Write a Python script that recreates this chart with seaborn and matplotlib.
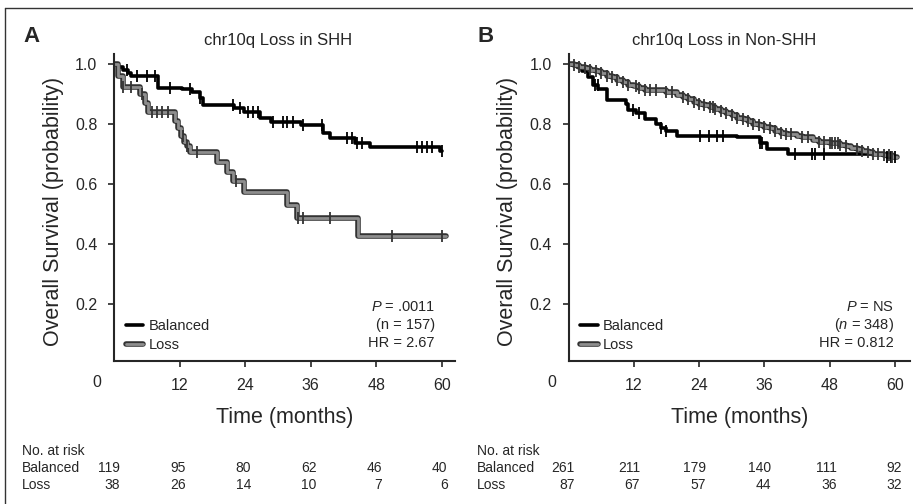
import numpy as np
import pandas as pd
import seaborn as sns
import matplotlib.pyplot as plt
import matplotlib.patheffects as pe
from matplotlib.lines import Line2D

# ---- data ----
# panel A: SHH
a_bal_t = [0, 0.8, 1.6, 2.5, 3.2, 8.1, 12.5, 14.3, 15.7, 16.3, 22.0, 23.7, 26.7, 28.7, 34.3, 38.2, 39.5, 44.1, 46.8, 59.7, 60.0]
a_bal_s = [1.0, 0.99, 0.98, 0.97, 0.96, 0.92, 0.915, 0.905, 0.885, 0.863, 0.853, 0.84, 0.82, 0.808, 0.797, 0.77, 0.753, 0.737, 0.723, 0.71, 0.71]
a_bal_cens = [2.3, 4.2, 6.0, 7.5, 10.2, 13.9, 15.7, 21.8, 23.0, 24.5, 25.5, 26.4, 29.1, 31.0, 31.6, 32.8, 34.6, 38.0,
              42.6, 43.5, 44.4, 45.3, 55.4, 56.3, 57.2, 58.1, 60.0]
a_loss_t = [0, 0.8, 1.7, 4.8, 5.6, 6.3, 11.2, 11.8, 12.3, 12.8, 13.3, 13.9, 18.8, 20.6, 21.8, 23.7, 31.6, 33.4, 44.7, 60.7]
a_loss_s = [1.0, 0.96, 0.923, 0.9, 0.87, 0.84, 0.81, 0.785, 0.76, 0.74, 0.725, 0.708, 0.674, 0.64, 0.61, 0.573, 0.53, 0.486, 0.427, 0.427]
a_loss_cens = [1.7, 3.2, 5.1, 6.9, 7.8, 8.7, 9.9, 12.7, 13.3, 15.1, 22.4, 33.7, 34.6, 39.5, 50.8, 60.0]

# panel B: Non-SHH
b_bal_t = [0, 1.5, 2.5, 3.5, 4.5, 5.5, 7.0, 10.5, 11.0, 12.5, 14.0, 16.0, 17.0, 18.0, 20.0, 31.0, 35.2, 36.5, 40.4, 58.5, 60.5]
b_bal_s = [1.0, 0.99, 0.975, 0.955, 0.93, 0.915, 0.88, 0.865, 0.845, 0.835, 0.815, 0.80, 0.785, 0.775, 0.76, 0.755, 0.735, 0.715, 0.70, 0.69, 0.69]
b_bal_cens = [4.9, 5.4, 11.9, 13.0, 17.1, 18.0, 24.2, 25.8, 27.3, 28.4, 35.2, 35.6, 41.6, 44.8, 45.3, 47.0, 58.5, 59.3, 60.0]
b_loss_t = [0, 1, 2, 3, 4, 5, 6, 7, 8, 9, 10, 11, 12, 13, 14, 18, 20,
            21, 22, 23, 24, 25, 26, 27, 28, 29, 30, 31, 32, 33, 34, 35, 36, 37, 38, 39, 40,
            42, 43, 45, 46, 48, 50, 51, 52, 53, 54, 55, 56, 58, 59.5, 60.5]
b_loss_s = [1.0, 0.995, 0.99, 0.985, 0.98, 0.975, 0.97, 0.96, 0.955, 0.948, 0.94, 0.93, 0.925, 0.92, 0.912, 0.905, 0.897,
            0.89, 0.882, 0.874, 0.868, 0.862, 0.855, 0.85, 0.842, 0.836, 0.83, 0.82, 0.815, 0.81, 0.80, 0.795, 0.79, 0.785, 0.775, 0.77, 0.765,
            0.76, 0.755, 0.745, 0.74, 0.735, 0.73, 0.725, 0.72, 0.715, 0.71, 0.705, 0.70, 0.695, 0.69, 0.69]
b_loss_cens = [1, 2, 3, 4, 5, 6, 7, 8, 9, 10, 11, 12.5, 13, 14, 15, 16, 18, 19, 21, 22, 23, 24, 25, 26, 26.5, 27, 28,
               29, 30, 31, 32, 33, 34, 35, 36, 37, 38, 39, 40, 41, 43, 44, 46, 47, 48, 48.5, 49, 49.5, 50, 51, 53,
               54, 55, 56, 57, 58, 59, 59.5]

risk_times = [0, 12, 24, 36, 48, 60]
a_risk_bal = [119, 95, 80, 62, 46, 40]
a_risk_loss = [38, 26, 14, 10, 7, 6]
b_risk_bal = [261, 211, 179, 140, 111, 92]
b_risk_loss = [87, 67, 57, 44, 36, 32]

titles = ["chr10q Loss in SHH", "chr10q Loss in Non-SHH"]
letters = ["A", "B"]
stats = [["$\\mathit{P}$ = .0011", "(n = 157)", "HR = 2.67"],
         ["$\\mathit{P}$ = NS", "($\\mathit{n}$ = 348)", "HR = 0.812"]]

sns.set_style("ticks")
plt.rcParams["font.family"] = ["Liberation Sans", "DejaVu Sans"]
plt.rcParams["mathtext.fontset"] = "custom"
plt.rcParams["mathtext.it"] = "Liberation Sans:italic"
plt.rcParams["mathtext.rm"] = "Liberation Sans"

W, H = 913, 504
fig = plt.figure(figsize=(W / 100, H / 100), dpi=100)


def px(x, y):
    return x / W, 1 - y / H


BAL_COLOR = "black"
LOSS_COLOR = "#8e8e8e"
LOSS_EDGE = "#333333"
loss_fx = [pe.Stroke(linewidth=4.0, foreground=LOSS_EDGE), pe.Normal()]


def km(ax, t, s, cens, color, lw, fx, tick_color):
    df = pd.DataFrame({"t": t, "s": s})
    line = sns.lineplot(data=df, x="t", y="s", ax=ax, color=color, lw=lw, drawstyle="steps-post",
                        estimator=None, sort=False, legend=False)
    if fx:
        line.lines[-1].set_path_effects(fx)
    idx = np.searchsorted(np.array(t), np.array(cens), side="right") - 1
    cdf = pd.DataFrame({"t": cens, "s": np.array(s)[idx]})
    sns.scatterplot(data=cdf, x="t", y="s", ax=ax, marker="|", s=75, linewidth=1.3,
                    color=tick_color, legend=False, zorder=5)


panels = [
    dict(left=114, right=455, bal=(a_bal_t, a_bal_s, a_bal_cens), loss=(a_loss_t, a_loss_s, a_loss_cens),
         rb=a_risk_bal, rl=a_risk_loss, title_x=278, xmax=62.4, ann_x=0.941),
    dict(left=568.5, right=910, bal=(b_bal_t, b_bal_s, b_bal_cens), loss=(b_loss_t, b_loss_s, b_loss_cens),
         rb=b_risk_bal, rl=b_risk_loss, title_x=724, xmax=62.8, ann_x=0.953),
]

top, bottom = 54, 361
for i, p in enumerate(panels):
    l, b = px(p["left"], bottom)
    ax = fig.add_axes([l, b, (p["right"] - p["left"]) / W, (bottom - top) / H])
    km(ax, *p["bal"], BAL_COLOR, 2.6, None, "black")
    km(ax, *p["loss"], LOSS_COLOR, 2.0, loss_fx, "#333333")

    ax.set_xlim(0, p["xmax"])
    ax.set_ylim(0.01, 1.033)
    ax.set_xticks([12, 24, 36, 48, 60])
    ax.set_yticks([0.2, 0.4, 0.6, 0.8, 1.0])
    ax.set_yticklabels(["0.2", "0.4", "0.6", "0.8", "1.0"])
    ax.tick_params(axis="both", direction="out", length=4, width=1.2, labelsize=11.5)
    ax.tick_params(axis="y", pad=8)
    ax.tick_params(axis="x", pad=8)
    ax.set_xlabel("")
    ax.set_ylabel("")
    sns.despine(ax=ax)
    for sp in ["left", "bottom"]:
        ax.spines[sp].set_linewidth(1.5)

    # "0" at the origin
    ax.text(-3.1, -0.06, "0", transform=ax.transData, ha="center", va="center", fontsize=11.5)

    # legend
    handles = [Line2D([], [], color=BAL_COLOR, lw=2.6),
               Line2D([], [], color=LOSS_COLOR, lw=2.0, path_effects=loss_fx)]
    ax.legend(handles, ["Balanced", "Loss"], loc="lower left", bbox_to_anchor=(0.035, 0.03),
              frameon=False, fontsize=10.5, handlelength=1.2, handletextpad=0.35,
              labelspacing=0.3, borderpad=0, borderaxespad=0)

    # stats
    for k, txt in enumerate(stats[i]):
        ax.text(p["ann_x"], 0.176 - k * 0.059, txt, transform=ax.transAxes,
                ha="right", va="center", fontsize=10.5)

    # titles, letters, axis labels
    fig.text(*px(p["title_x"], 41), titles[i], ha="center", va="center", fontsize=12)
    fig.text(*px(p["left"] - 91, 37), letters[i], ha="left", va="center", fontsize=16, fontweight="bold")
    fig.text(*px(p["left"] - 61, 211), "Overall Survival (probability)", rotation=90,
             ha="center", va="center", fontsize=15.5)
    fig.text(*px((p["left"] + p["right"]) / 2, 418), "Time (months)", ha="center", va="center", fontsize=15.5)

    # number at risk table
    tx = p["left"] - 92
    fig.text(*px(tx, 451), "No. at risk", ha="left", va="center", fontsize=10)
    fig.text(*px(tx, 468), "Balanced", ha="left", va="center", fontsize=10)
    fig.text(*px(tx, 485), "Loss", ha="left", va="center", fontsize=10)
    for t, nb, nl in zip(risk_times, p["rb"], p["rl"]):
        xr = p["left"] + t * 5.46 + 6
        fig.text(*px(xr, 468), str(nb), ha="right", va="center", fontsize=10)
        fig.text(*px(xr, 485), str(nl), ha="right", va="center", fontsize=10)

# outer frame lines
fig.add_artist(Line2D([5 / W, 1], [1 - 8 / H, 1 - 8 / H], color="#333333", lw=1.0, transform=fig.transFigure))
fig.add_artist(Line2D([5 / W, 5 / W], [0, 1 - 8 / H], color="#333333", lw=1.0, transform=fig.transFigure))

fig.savefig("out.png", dpi=100)
